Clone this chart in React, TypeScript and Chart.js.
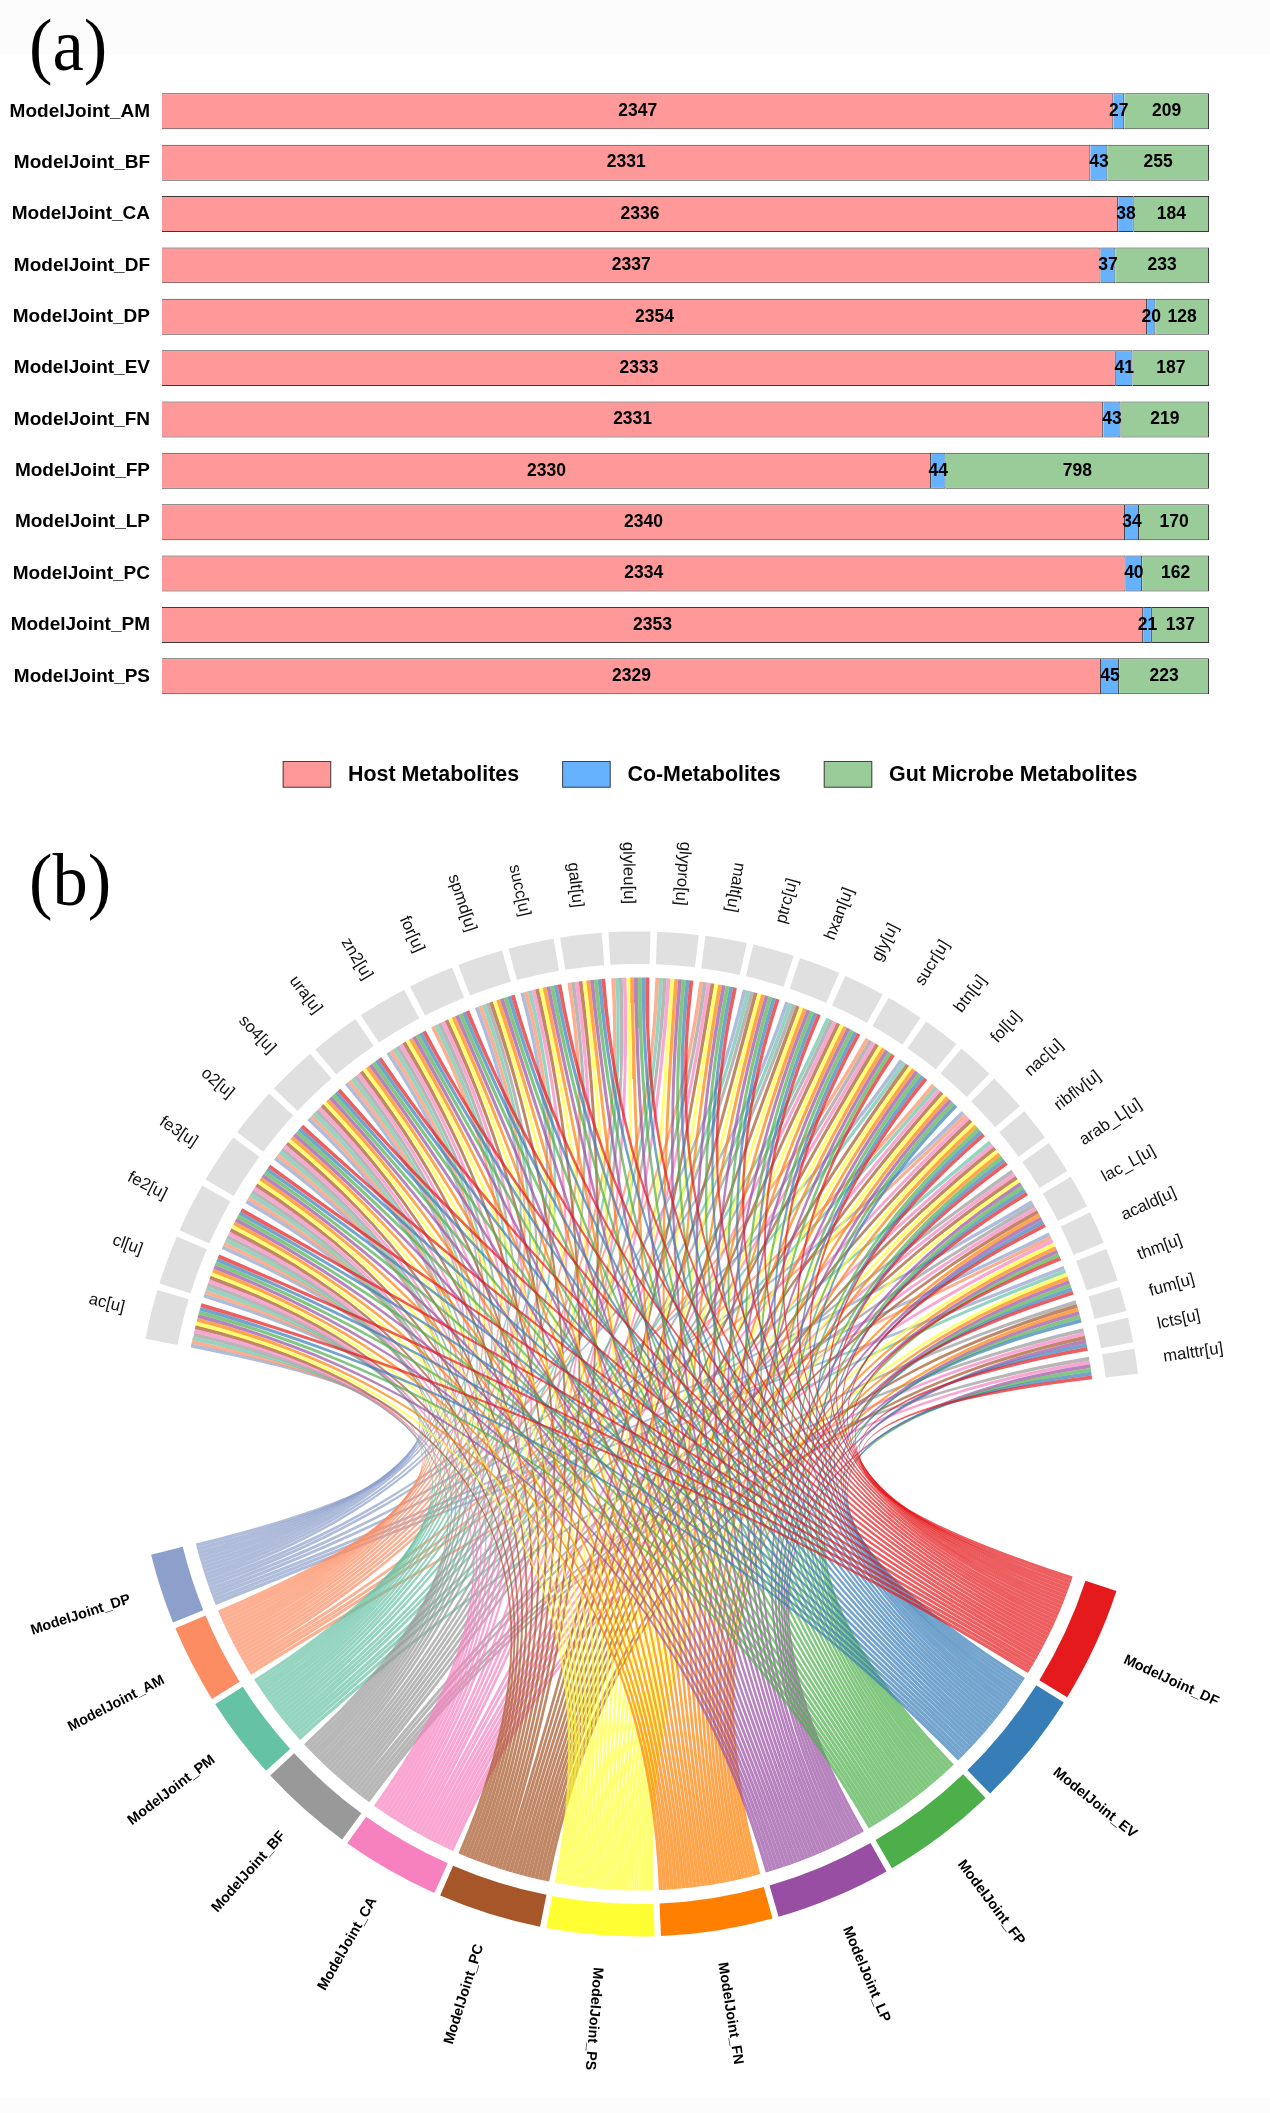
import React, { useEffect, useRef } from "react";
import { Chart, registerables } from "chart.js";

Chart.register(...registerables);

// ---------- panel (a): metabolite counts per joint model ----------
const barModels = [
  "ModelJoint_AM", "ModelJoint_BF", "ModelJoint_CA", "ModelJoint_DF", "ModelJoint_DP", "ModelJoint_EV",
  "ModelJoint_FN", "ModelJoint_FP", "ModelJoint_LP", "ModelJoint_PC", "ModelJoint_PM", "ModelJoint_PS",
];
const hostCounts = [2347, 2331, 2336, 2337, 2354, 2333, 2331, 2330, 2340, 2334, 2353, 2329];
const coCounts = [27, 43, 38, 37, 20, 41, 43, 44, 34, 40, 21, 45];
const gutCounts = [209, 255, 184, 233, 128, 187, 219, 798, 170, 162, 137, 223];
const seriesNames = ["Host Metabolites", "Co-Metabolites", "Gut Microbe Metabolites"];
const seriesColors = ["#FF9999", "#66B2FF", "#99CC99"];

// ---------- panel (b): chord diagram, clockwise order ----------
const chordModels = ["DF", "EV", "FP", "LP", "FN", "PS", "PC", "CA", "BF", "PM", "AM", "DP"];
const chordModelColors = [
  "#E41A1C", "#377EB8", "#4DAF4A", "#984EA3", "#FF7F00", "#FFFF33",
  "#A65628", "#F781BF", "#999999", "#66C2A5", "#FC8D62", "#8DA0CB",
];
const metabolites = [
  "ac[u]", "cl[u]", "fe2[u]", "fe3[u]", "o2[u]", "so4[u]", "ura[u]", "zn2[u]", "for[u]", "spmd[u]",
  "succ[u]", "galt[u]", "glyleu[u]", "glypro[u]", "malt[u]", "ptrc[u]", "hxan[u]", "gly[u]", "sucr[u]", "btn[u]",
  "fol[u]", "nac[u]", "ribflv[u]", "arab_L[u]", "lac_L[u]", "acald[u]", "thm[u]", "fum[u]", "lcts[u]", "malttr[u]",
];
const ALL = "DP AM PM BF CA PC PS FN LP FP EV DF";
const metaboliteLinks = [
  ALL, ALL, ALL, ALL, ALL, ALL, ALL, ALL,
  "AM PM BF CA PC PS FN LP FP EV DF",
  "DP AM PM BF PC PS FN LP FP EV DF",
  "DP AM PM CA PC PS FN LP FP EV DF",
  "AM BF CA PC PS FN LP FP EV DF",
  "AM PM BF CA PS FN LP FP EV DF",
  "AM PM BF CA PS FN LP FP EV DF",
  "AM BF CA PC PS FN LP FP EV DF",
  "DP PM BF PC PS FN LP FP EV DF",
  "DP PM BF PC PS FN LP FP EV DF",
  "PM BF CA PC PS FN LP FP EV DF",
  "AM BF CA PC PS FN LP FP DF",
  "DP PM PC PS FN LP FP EV DF",
  "AM PM CA PC PS FN LP FP EV",
  "DP AM CA PC PS FN FP EV DF",
  "PM CA PC PS FN FP EV DF",
  "BF CA PC PS LP FP EV DF",
  "DP BF CA PC FN LP EV DF",
  "DP AM CA PS FN LP FP DF",
  "DP PM PS FN LP FP EV DF",
  "BF PC FN LP FP EV",
  "BF CA PC LP EV DF",
  "BF CA LP FP EV DF",
];
const METABOLITE_GREY = "#E0E0E0";
const MODEL_GAP = 1.5; // in link widths
const METABOLITE_GAP = 1.6; // in link widths
const LEFT_GAP = 51.9; // in link widths
const RIGHT_GAP = 52.5; // in link widths
const START_ANGLE = 18.2; // degrees clockwise from +x

const FONT = "'Liberation Sans', Arial, sans-serif";
const CX = 639, CY = 1434, R_OUT = 502.6, R_IN = 470, R_LINK = 456.5;

// ---------- chord layout ----------
function buildChord() {
  const parsed = metaboliteLinks.map((s) => s.split(" "));
  const modelLists = chordModels.map((m) =>
    parsed.map((row, i) => (row.includes(m) ? i : -1)).filter((i) => i >= 0).reverse(),
  );
  const values: number[] = [], colors: string[] = [], labels: (string | null)[] = [], bold: boolean[] = [];
  const modelStart: number[] = [], metStart: number[] = [];
  let cursor = 0;
  chordModels.forEach((m, i) => {
    modelStart.push(cursor);
    values.push(modelLists[i].length); colors.push(chordModelColors[i]); labels.push("ModelJoint_" + m); bold.push(true);
    cursor += modelLists[i].length;
    const g = i === chordModels.length - 1 ? LEFT_GAP : MODEL_GAP;
    values.push(g); colors.push("rgba(0,0,0,0)"); labels.push(null); bold.push(false);
    cursor += g;
  });
  metabolites.forEach((m, i) => {
    metStart.push(cursor);
    values.push(parsed[i].length); colors.push(METABOLITE_GREY); labels.push(m); bold.push(false);
    cursor += parsed[i].length;
    const g = i === metabolites.length - 1 ? RIGHT_GAP : METABOLITE_GAP;
    values.push(g); colors.push("rgba(0,0,0,0)"); labels.push(null); bold.push(false);
    cursor += g;
  });
  const unit = (360 / cursor) * (Math.PI / 180);
  const ang = (u: number) => (START_ANGLE * Math.PI) / 180 + u * unit;
  const pt = (a: number) => ({ x: CX + R_LINK * Math.cos(a), y: CY + R_LINK * Math.sin(a) });
  const ribbons: { label: string; color: string; points: { x: number; y: number }[] }[] = [];
  const edge = (p0: { x: number; y: number }, p2: { x: number; y: number }, out: { x: number; y: number }[]) => {
    for (let k = 0; k <= 36; k++) {
      const t = k / 36, s = 1 - t;
      out.push({
        x: s * s * p0.x + 2 * s * t * CX + t * t * p2.x,
        y: s * s * p0.y + 2 * s * t * CY + t * t * p2.y,
      });
    }
  };
  chordModels.forEach((m, mi) => {
    modelLists[mi].forEach((ki, rank) => {
      const metRank = parsed[ki].indexOf(m);
      const a1 = ang(modelStart[mi] + rank), a2 = a1 + unit;
      const b1 = ang(metStart[ki] + metRank), b2 = b1 + unit;
      const points: { x: number; y: number }[] = [];
      edge(pt(a2), pt(b1), points);
      edge(pt(b2), pt(a1), points);
      ribbons.push({ label: m + "-" + metabolites[ki], color: chordModelColors[mi] + "B3", points });
    });
  });
  return { values, colors, labels, bold, ribbons };
}

function App() {
  const barRef = useRef<HTMLCanvasElement>(null);
  const ribbonRef = useRef<HTMLCanvasElement>(null);
  const ringRef = useRef<HTMLCanvasElement>(null);

  useEffect(() => {
    document.body.style.margin = "0";
    const counts = [hostCounts, coCounts, gutCounts];
    const totals = barModels.map((_, i) => hostCounts[i] + coCounts[i] + gutCounts[i]);

    const barLabels = {
      id: "barLabels",
      afterDatasetsDraw(chart: any) {
        const { ctx } = chart;
        ctx.save();
        ctx.font = `bold 17.5px ${FONT}`;
        ctx.fillStyle = "#000";
        ctx.textAlign = "center";
        ctx.textBaseline = "middle";
        chart.data.datasets.forEach((_: any, d: number) => {
          chart.getDatasetMeta(d).data.forEach((bar: any, i: number) => {
            ctx.fillText(String(counts[d][i]), (bar.base + bar.x) / 2, bar.y);
          });
        });
        ctx.restore();
      },
    };
    const barLegend = {
      id: "barLegend",
      afterDraw(chart: any) {
        const { ctx } = chart;
        let x = 282.7;
        ctx.save();
        ctx.font = `bold 21.4px ${FONT}`;
        ctx.textBaseline = "middle";
        ctx.textAlign = "left";
        chart.data.datasets.forEach((ds: any) => {
          ctx.fillStyle = ds.backgroundColor;
          ctx.strokeStyle = "#444";
          ctx.lineWidth = 1;
          ctx.fillRect(x, 761, 48.5, 26.7);
          ctx.strokeRect(x + 0.5, 761.5, 47.5, 25.7);
          ctx.fillStyle = "#000";
          ctx.fillText(ds.label, x + 65.3, 775);
          x += 65.3 + ctx.measureText(ds.label).width + 43;
        });
        ctx.restore();
      },
    };
    const bar = new Chart(barRef.current!, {
      type: "bar",
      data: {
        labels: barModels,
        datasets: seriesNames.map((label, d) => ({
          label,
          data: counts[d].map((v, i) => (v / totals[i]) * 100),
          backgroundColor: seriesColors[d],
          borderColor: "#3a3a3a",
          borderWidth: 1,
          categoryPercentage: 1,
          barPercentage: 0.7,
        })),
      },
      options: {
        indexAxis: "y",
        responsive: false,
        animation: false,
        events: [],
        layout: { padding: { top: 85.6, right: 61, bottom: 128, left: 0 } },
        plugins: { legend: { display: false }, tooltip: { enabled: false } },
        scales: {
          x: { stacked: true, min: 0, max: 100, display: false },
          y: {
            stacked: true,
            grid: { display: false },
            border: { display: false },
            afterFit: (s: any) => { s.width = 162; },
            ticks: {
              padding: 4,
              color: "#000",
              autoSkip: false,
              font: { family: FONT, size: 19, weight: "bold" },
            },
          },
        },
      },
      plugins: [barLabels, barLegend],
    } as any);

    const { values, colors, labels, bold, ribbons } = buildChord();

    const ribbonChart = new Chart(ribbonRef.current!, {
      type: "line",
      data: {
        datasets: ribbons.map((r) => ({
          label: r.label,
          data: r.points,
          parsing: false,
          backgroundColor: r.color,
          borderWidth: 0,
          pointRadius: 0,
          tension: 0,
          fill: "shape",
        })),
      },
      options: {
        responsive: false,
        animation: false,
        events: [],
        layout: { padding: 0 },
        plugins: { legend: { display: false }, tooltip: { enabled: false } },
        scales: {
          x: { type: "linear", min: 0, max: 1270, display: false },
          y: { type: "linear", min: 0, max: 2113, reverse: true, display: false },
        },
      },
    } as any);

    const ringLabels = {
      id: "ringLabels",
      afterDatasetsDraw(chart: any) {
        const { ctx } = chart;
        const arcs = chart.getDatasetMeta(0).data;
        ctx.save();
        ctx.textBaseline = "middle";
        arcs.forEach((arc: any, i: number) => {
          const text = labels[i];
          if (!text) return;
          const mid = (arc.startAngle + arc.endAngle) / 2;
          const deg = (((mid * 180) / Math.PI) % 360 + 360) % 360;
          const r = bold[i] ? 535 : 530;
          const outward = deg < 100 || deg > 282;
          ctx.save();
          ctx.translate(arc.x + r * Math.cos(mid), arc.y + r * Math.sin(mid));
          ctx.rotate(outward ? mid : mid + Math.PI);
          ctx.textAlign = outward ? "left" : "right";
          ctx.font = bold[i] ? `bold 14.4px ${FONT}` : `16.7px ${FONT}`;
          ctx.fillStyle = bold[i] ? "#000" : "#111";
          ctx.fillText(text, 0, 0);
          ctx.restore();
        });
        ctx.restore();
      },
    };
    const ring = new Chart(ringRef.current!, {
      type: "doughnut",
      data: {
        labels: labels.map((l) => l ?? ""),
        datasets: [{ data: values, backgroundColor: colors, borderWidth: 0, hoverOffset: 0 }],
      },
      options: {
        responsive: false,
        animation: false,
        events: [],
        rotation: 90 + START_ANGLE,
        circumference: 360,
        radius: R_OUT,
        cutout: `${(R_IN / R_OUT) * 100}%`,
        layout: { padding: { left: 8, top: 755 } },
        plugins: { legend: { display: false }, tooltip: { enabled: false } },
      },
      plugins: [ringLabels],
    } as any);

    return () => {
      bar.destroy();
      ribbonChart.destroy();
      ring.destroy();
    };
  }, []);

  const layer: React.CSSProperties = { position: "absolute", left: 0, top: 0 };
  const panel: React.CSSProperties = {
    position: "absolute",
    left: 29,
    fontFamily: "'Liberation Serif', serif",
    fontSize: 75,
    lineHeight: "75px",
    color: "#000",
    transform: "scaleX(0.94)",
    transformOrigin: "left top",
  };
  return (
    <div style={{ position: "absolute", left: 0, top: 0, width: 1270, height: 2113, overflow: "hidden", background: "#fff" }}>
      <div style={{ position: "absolute", left: 0, top: 0, width: 1270, height: 54, background: "#FCFCFC" }} />
      <div style={{ position: "absolute", left: 0, top: 2098, width: 1270, height: 15, background: "#FCFCFC" }} />
      <canvas ref={barRef} width={1270} height={830} style={layer} />
      <canvas ref={ribbonRef} width={1270} height={2113} style={layer} />
      <canvas ref={ringRef} width={1270} height={2113} style={layer} />
      <div style={{ ...panel, top: 7 }}>(a)</div>
      <div style={{ ...panel, top: 842 }}>(b)</div>
    </div>
  );
}

export default App;
